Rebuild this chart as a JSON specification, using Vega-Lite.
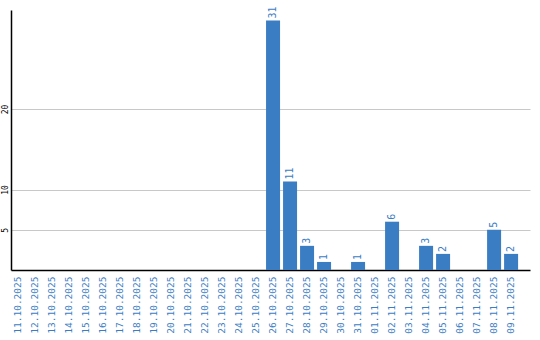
{
  "$schema": "https://vega.github.io/schema/vega-lite/v6.json",
  "width": 519,
  "height": 260,
  "autosize": "none",
  "padding": {"left": 11, "top": 10, "right": 10, "bottom": 70},
  "background": "white",
  "config": {"view": {"stroke": null}},
  "data": {"values": [
    {"date": "11.10.2025", "value": 0},
    {"date": "12.10.2025", "value": 0},
    {"date": "13.10.2025", "value": 0},
    {"date": "14.10.2025", "value": 0},
    {"date": "15.10.2025", "value": 0},
    {"date": "16.10.2025", "value": 0},
    {"date": "17.10.2025", "value": 0},
    {"date": "18.10.2025", "value": 0},
    {"date": "19.10.2025", "value": 0},
    {"date": "20.10.2025", "value": 0},
    {"date": "21.10.2025", "value": 0},
    {"date": "22.10.2025", "value": 0},
    {"date": "23.10.2025", "value": 0},
    {"date": "24.10.2025", "value": 0},
    {"date": "25.10.2025", "value": 0},
    {"date": "26.10.2025", "value": 31},
    {"date": "27.10.2025", "value": 11},
    {"date": "28.10.2025", "value": 3},
    {"date": "29.10.2025", "value": 1},
    {"date": "30.10.2025", "value": 0},
    {"date": "31.10.2025", "value": 1},
    {"date": "01.11.2025", "value": 0},
    {"date": "02.11.2025", "value": 6},
    {"date": "03.11.2025", "value": 0},
    {"date": "04.11.2025", "value": 3},
    {"date": "05.11.2025", "value": 2},
    {"date": "06.11.2025", "value": 0},
    {"date": "07.11.2025", "value": 0},
    {"date": "08.11.2025", "value": 5},
    {"date": "09.11.2025", "value": 2}
  ]},
  "encoding": {
    "x": {
      "field": "date", "type": "ordinal", "sort": null,
      "scale": {"paddingInner": 0.176, "paddingOuter": 0.35, "align": 0},
      "axis": {
        "title": null, "labelAngle": -90, "labelAlign": "right", "labelBaseline": "middle",
        "labelFont": "DejaVu Sans Mono", "labelFontSize": 9.5, "labelColor": "#3b7dc3",
        "ticks": false, "labelPadding": 6, "domainColor": "#000000", "domainWidth": 1.5
      }
    },
    "y": {
      "field": "value", "type": "quantitative",
      "scale": {"domain": [0, 32.3], "nice": false},
      "axis": {
        "title": null, "values": [5, 10, 20], "labelAngle": -90, "labelAlign": "center",
        "labelBaseline": "bottom", "labelFont": "DejaVu Sans Mono", "labelFontSize": 8,
        "labelColor": "#000000", "ticks": false, "labelPadding": 2,
        "domainColor": "#000000", "domainWidth": 1.5,
        "grid": true, "gridColor": "#c8c8c8", "gridWidth": 1
      }
    }
  },
  "layer": [
    {"mark": {"type": "bar", "color": "#3b7dc3"}},
    {
      "transform": [{"filter": "datum.value > 0"}],
      "mark": {"type": "text", "angle": -90, "align": "left", "baseline": "middle", "dx": 2,
               "font": "DejaVu Sans Mono", "fontSize": 10, "color": "#3b7dc3"},
      "encoding": {"text": {"field": "value", "type": "quantitative"}}
    }
  ]
}
